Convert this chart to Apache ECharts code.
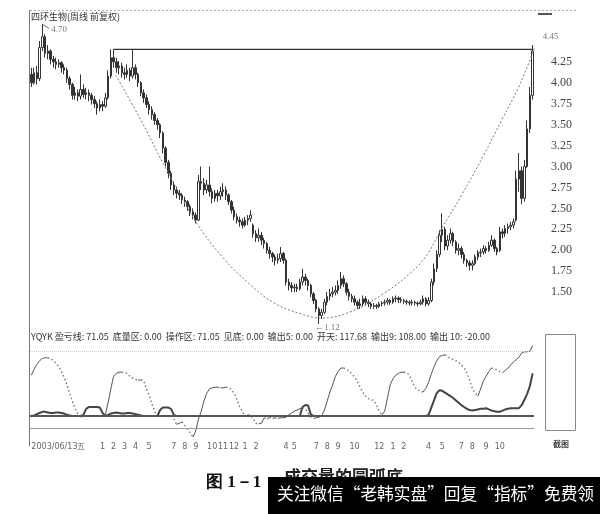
<!DOCTYPE html>
<html><head><meta charset="utf-8">
<script src="https://cdn.jsdelivr.net/npm/echarts@6/dist/echarts.min.js"></script>
<style>html,body{margin:0;padding:0;background:#fff}#c{width:600px;height:514px}</style>
</head><body><div id="c"></div>
<script>
// ---------- data ----------
const chartTitle = '四环生物(周线 前复权)';
// weekly candles: [open, close, low, high]
const candles = [
[4.10,4.00,3.95,4.18],[4.00,4.12,3.98,4.18],[4.12,4.05,3.98,4.20],[4.05,4.42,4.02,4.50],[4.42,4.55,4.38,4.70],
[4.55,4.35,4.30,4.58],[4.35,4.38,4.28,4.45],[4.38,4.28,4.22,4.40],[4.28,4.25,4.18,4.32],[4.25,4.22,4.16,4.30],
[4.22,4.24,4.18,4.28],[4.24,4.18,4.12,4.26],[4.18,4.15,4.10,4.22],[4.15,4.05,4.00,4.18],[4.05,3.98,3.92,4.08],
[3.98,3.85,3.80,4.00],[3.85,3.88,3.80,3.95],[3.88,3.84,3.78,3.92],[3.84,3.92,3.80,4.10],[3.92,3.86,3.82,3.98],
[3.86,3.88,3.80,3.94],[3.88,3.85,3.78,3.92],[3.85,3.80,3.74,3.88],[3.80,3.75,3.70,3.84],[3.75,3.70,3.62,3.78],
[3.70,3.74,3.66,3.80],[3.74,3.72,3.66,3.78],[3.72,3.82,3.70,3.88],[3.82,4.08,3.80,4.15],[4.08,4.30,4.05,4.40],
[4.30,4.25,4.18,4.40],[4.25,4.18,4.12,4.30],[4.18,4.20,4.10,4.26],[4.20,4.12,4.06,4.24],[4.12,4.10,4.04,4.18],
[4.10,4.15,4.06,4.22],[4.15,4.08,4.02,4.18],[4.08,4.18,4.05,4.40],[4.18,4.10,4.04,4.22],[4.10,4.00,3.95,4.12],
[4.00,3.88,3.84,4.02],[3.88,3.82,3.76,3.92],[3.82,3.74,3.70,3.86],[3.74,3.68,3.62,3.78],[3.68,3.62,3.56,3.72],
[3.62,3.55,3.50,3.65],[3.55,3.50,3.44,3.58],[3.50,3.40,3.34,3.52],[3.40,3.22,3.16,3.42],[3.22,3.05,3.00,3.24],
[3.05,2.92,2.86,3.08],[2.92,2.78,2.72,2.95],[2.78,2.72,2.66,2.82],[2.72,2.68,2.62,2.76],[2.68,2.66,2.60,2.72],
[2.66,2.60,2.55,2.68],[2.60,2.58,2.52,2.64],[2.58,2.52,2.47,2.60],[2.52,2.46,2.41,2.55],[2.46,2.42,2.37,2.50],
[2.42,2.36,2.32,2.45],[2.36,2.82,2.35,2.90],[2.82,2.80,2.72,3.00],[2.80,2.72,2.66,2.86],[2.72,2.78,2.68,2.84],
[2.78,2.70,2.64,3.00],[2.70,2.62,2.56,2.74],[2.62,2.68,2.58,2.72],[2.68,2.65,2.58,2.72],[2.65,2.70,2.60,2.76],
[2.70,2.72,2.64,2.80],[2.72,2.66,2.60,2.76],[2.66,2.58,2.54,2.68],[2.58,2.48,2.44,2.60],[2.48,2.40,2.36,2.52],
[2.40,2.36,2.32,2.44],[2.36,2.34,2.28,2.40],[2.34,2.30,2.26,2.38],[2.30,2.36,2.28,2.40],[2.36,2.38,2.30,2.42],
[2.38,2.42,2.34,2.48],[2.30,2.20,2.15,2.32],[2.20,2.15,2.10,2.24],[2.15,2.18,2.10,2.26],[2.18,2.12,2.06,2.22],
[2.12,2.08,2.02,2.15],[2.08,2.00,1.96,2.10],[2.00,1.96,1.90,2.04],[1.96,1.92,1.86,1.98],[1.92,1.88,1.82,1.95],
[1.88,1.90,1.84,1.96],[1.90,1.96,1.86,2.04],[1.96,1.88,1.84,1.98],[1.88,1.62,1.58,1.90],[1.62,1.58,1.52,1.66],
[1.58,1.55,1.50,1.62],[1.55,1.56,1.50,1.60],[1.56,1.54,1.50,1.60],[1.54,1.62,1.52,1.66],[1.62,1.68,1.58,1.78],
[1.68,1.64,1.58,1.72],[1.64,1.58,1.52,1.66],[1.58,1.48,1.44,1.60],[1.48,1.40,1.36,1.50],[1.40,1.30,1.26,1.42],
[1.30,1.22,1.12,1.32],[1.22,1.26,1.18,1.30],[1.26,1.38,1.24,1.42],[1.38,1.45,1.34,1.50],[1.45,1.48,1.40,1.54],
[1.48,1.50,1.44,1.56],[1.50,1.52,1.46,1.58],[1.52,1.58,1.48,1.64],[1.58,1.66,1.54,1.74],[1.66,1.60,1.56,1.70],
[1.60,1.50,1.46,1.62],[1.50,1.45,1.40,1.54],[1.45,1.42,1.38,1.48],[1.42,1.38,1.34,1.46],[1.38,1.34,1.30,1.40],
[1.34,1.36,1.30,1.42],[1.36,1.42,1.33,1.46],[1.42,1.38,1.34,1.45],[1.38,1.36,1.32,1.41],[1.36,1.33,1.30,1.38],
[1.33,1.34,1.30,1.37],[1.34,1.33,1.30,1.36],[1.33,1.36,1.31,1.38],[1.36,1.37,1.33,1.39],[1.37,1.38,1.34,1.41],
[1.38,1.40,1.35,1.43],[1.40,1.38,1.35,1.42],[1.38,1.42,1.36,1.45],[1.42,1.43,1.38,1.46],[1.43,1.41,1.37,1.45],
[1.41,1.40,1.37,1.44],[1.40,1.39,1.36,1.42],[1.39,1.38,1.35,1.41],[1.38,1.37,1.34,1.40],[1.37,1.38,1.34,1.41],
[1.38,1.37,1.34,1.40],[1.37,1.36,1.33,1.39],[1.36,1.38,1.34,1.41],[1.38,1.42,1.35,1.46],[1.42,1.36,1.33,1.44],
[1.36,1.40,1.34,1.44],[1.40,1.62,1.38,1.66],[1.62,1.78,1.58,1.84],[1.78,1.95,1.74,2.00],[1.95,2.18,1.92,2.24],
[2.18,2.25,2.10,2.44],[2.25,2.05,2.00,2.28],[2.05,2.12,2.00,2.18],[2.12,2.20,2.08,2.26],[2.20,2.10,2.05,2.22],
[2.10,2.00,1.96,2.12],[2.00,2.02,1.94,2.08],[2.02,1.95,1.90,2.05],[1.95,1.88,1.84,1.98],[1.88,1.85,1.80,1.90],
[1.85,1.82,1.76,1.88],[1.82,1.84,1.76,1.88],[1.84,1.92,1.82,1.95],[1.92,1.97,1.88,2.00],[1.97,1.98,1.92,2.02],
[1.98,2.02,1.95,2.06],[2.02,2.00,1.96,2.05],[2.00,2.06,1.98,2.10],[2.06,2.12,2.04,2.18],[2.12,2.02,1.98,2.14],
[2.02,1.98,1.94,2.04],[2.00,2.22,1.98,2.28],[2.22,2.20,2.14,2.26],[2.20,2.26,2.16,2.30],[2.26,2.28,2.20,2.32],
[2.28,2.30,2.24,2.34],[2.30,2.34,2.26,2.38],[2.36,2.85,2.34,2.95],[2.85,2.95,2.70,3.16],[2.95,2.62,2.55,3.00],
[2.62,3.00,2.58,3.08],[3.00,3.45,2.98,3.55],[3.45,3.85,3.40,3.95],[3.85,4.38,3.80,4.45]
];
// indicator "开天" oscillator (one value per week)
const kaitian = [
68,78,86,92,96,97,97,96,92,88, 82,74,64,52,38,24,12,3,-2,0,
0,0,0,0,0,0,0,2,22,45, 66,71,73,73,72,71,66,63,61,60,
60,59,45,35,20,8,-1,0,0,0, 0,0,-4,-14,-12,-10,-16,-22,-28,-35,
-25,-5,8,25,38,45,47,48,48,47, 47,48,47,44,38,28,16,8,-1,2,
1,-5,-12,-13,-12,-3,-5,-2,-4,-3, -4,-3,-3,-2,2,5,8,10,12,14,
12,5,-2,-4,-3,-2,0,10,25,40, 52,66,74,80,80,78,75,70,65,58,
48,40,33,29,27,26,18,8,2,8, 30,52,62,68,71,73,73,72,68,58,
48,44,41,40,46,56,70,82,92,99, 101,102,99,96,94,92,90,85,80,72,
60,46,38,33,45,58,66,74,80,79, 77,74,72,76,80,85,90,94,98,105,
107,107,108,117.68
];
// indicator "盈亏线" (thick line)
const yingkui = [
0,1,3,5,7,7,6,5,5,6, 6,5,4,2,1,0,0,0,0,2,
12,15,15,15,15,14,5,0,2,4, 5,6,5,4,4,5,5,4,3,2,
1,0,0,0,0,0,0,10,14,14, 14,12,2,0,0,0,0,0,0,0,
0,0,0,0,0,0,0,0,0,0, 0,0,0,0,0,0,0,0,0,0,
0,0,0,0,0,0,0,0,0,0, 0,0,0,0,0,0,0,0,0,15,
18,18,3,0,0,0,0,0,0,0, 0,0,0,0,0,0,0,0,0,0,
0,0,0,0,0,0,0,0,0,0, 0,0,0,0,0,0,0,0,0,0,
0,0,0,0,0,2,14,26,38,43, 42,39,36,33,30,26,22,18,15,12,
10,9,10,11,12,12,13,11,9,8, 7,7,9,11,12,13,13,13,13,18,
27,37,50,71.05
];
const OUT9 = 108.00, OUT10 = -20.00;
const indicatorHeader = 'YQYK 盈亏线: 71.05  底量区: 0.00  操作区: 71.05  见底: 0.00  输出5: 0.00  开天: 117.68  输出9: 108.00  输出 10: -20.00';
// x-axis tick labels: [week index, text]
const tickLabels = [[0,'2003/06/13五'],[26,'1'],[30,'2'],[34,'3'],[38,'4'],[43,'5'],[52,'7'],[56,'8'],[60,'9'],
 [66,'10'],[70,'11'],[74,'12'],[78,'1'],[82,'2'],[93,'4'],[96,'5'],[104,'7'],[108,'8'],[112,'9'],[118,'10'],
 [127,'12'],[132,'1'],[136,'2'],[145,'4'],[150,'5'],[157,'7'],[161,'8'],[166,'9'],[171,'10']];
const priceTicks = ['1.50','1.75','2.00','2.25','2.50','2.75','3.00','3.25','3.50','3.75','4.00','4.25'];
// hand-drawn round-bottom arc, in [week index, price]
const arcPoints = [[30.8,4.09],[39.9,3.56],[48.4,3.02],[60.1,2.34],[70,1.91],[80.2,1.58],[88.6,1.37],[98.5,1.24],
 [105.9,1.19],[116.8,1.27],[128.9,1.49],[138.8,1.74],[144.3,1.94],[149.8,2.26],[157.1,2.66],[165.2,3.14],
 [171.8,3.56],[177.9,3.95],[182.7,4.33],[185.7,4.61]];
const rimLine = [[30,4.40],[183,4.40]];
const priceNotes = [[4,4.70,'4.70'],[105,1.12,'←1.12'],[183,4.45,'4.45']];
const captionNo = '图 1－1', captionText = '成交量的圆弧底';
const bannerText = '关注微信“老韩实盘”回复“指标”免费领';

// ---------- build ----------
const N = candles.length;
const categories = candles.map((_, i) => 'W' + (i + 1));
const labelMap = new Map(tickLabels);
function segments(arr, rising) {
  const out = [];
  let last = -2;
  for (let i = 1; i < arr.length; i++) {
    const up = arr[i] >= arr[i - 1];
    if (up !== rising) continue;
    if (last === i - 1) out.push([i, arr[i]]);
    else { if (out.length) out.push([i - 1.5, '-']); out.push([i - 1, arr[i - 1]], [i, arr[i]]); }
    last = i;
  }
  return out;
}
const chart = echarts.init(document.getElementById('c'), null, {renderer: 'canvas'});
const valX = (g, max) => ({type: 'value', gridIndex: g, min: -0.5, max: max, show: false});
const option = {
  animation: false,
  backgroundColor: '#fff',
  grid: [
    {left: 30, right: 66, top: 20, height: 314},
    {left: 30, right: 66, top: 344, height: 96}
  ],
  xAxis: [
    {type: 'category', gridIndex: 0, data: categories, boundaryGap: true, show: false},
    valX(0, N - 0.5),
    {type: 'category', gridIndex: 1, data: categories, boundaryGap: true,
     axisLine: {show: false}, axisTick: {show: false},
     axisLabel: {interval: (i) => labelMap.has(i), formatter: (v, i) => labelMap.get(i) || '',
       fontSize: 8, color: '#666', margin: 3, alignMinLabel: 'left', fontFamily: 'DejaVu Sans'}},
    valX(1, N - 0.5)
  ],
  yAxis: [
    {type: 'value', gridIndex: 0, min: 1.0, max: 4.75, interval: 0.25, position: 'right',
     axisLine: {show: false}, axisTick: {show: false}, splitLine: {show: false},
     axisLabel: {margin: 17, fontSize: 12, color: '#444', fontFamily: 'Liberation Serif',
       formatter: (v) => { const s = v.toFixed(2); return priceTicks.includes(s) ? s : ''; }}},
    {type: 'value', gridIndex: 1, min: -40, max: 120, show: false}
  ],
  series: [
    {type: 'candlestick', xAxisIndex: 0, yAxisIndex: 0, data: candles, barWidth: 2,
     itemStyle: {color: '#fff', color0: '#333', borderColor: '#333', borderColor0: '#333', borderWidth: 1}},
    {type: 'line', xAxisIndex: 1, yAxisIndex: 0, data: rimLine, symbol: 'none',
     lineStyle: {color: '#333', width: 1.2}},
    {type: 'line', xAxisIndex: 1, yAxisIndex: 0, data: arcPoints, symbol: 'none', smooth: 0.4, clip: false,
     lineStyle: {color: '#777', width: 1, type: [2, 2]}},
    {type: 'line', xAxisIndex: 1, yAxisIndex: 0, data: [[priceNotes[0][0], priceNotes[0][1]], [priceNotes[0][0] + 2.5, priceNotes[0][1] - 0.05]],
     symbol: 'none', lineStyle: {color: '#666', width: 1}},
    {type: 'scatter', xAxisIndex: 1, yAxisIndex: 0, symbolSize: 0, clip: false,
     data: priceNotes.map((n, k) => ({value: [n[0], n[1]], name: n[2],
       label: {offset: k === 0 ? [9, 5] : (k === 1 ? [-4, 4] : [10, -8])}})),
     label: {show: true, position: 'right', distance: 0, formatter: (p) => p.name,
       fontSize: 9, color: '#555', fontFamily: 'Liberation Serif'}},
    // indicator panel
    {type: 'line', xAxisIndex: 2, yAxisIndex: 1, data: yingkui, symbol: 'none',
     lineStyle: {color: '#444', width: 2},
     markLine: {symbol: 'none', silent: true, label: {show: false}, data: [
       {yAxis: 0, lineStyle: {color: '#555', width: 2, type: 'solid'}},
       {yAxis: OUT10, lineStyle: {color: '#999', width: 1, type: 'solid'}},
       {yAxis: OUT9, lineStyle: {color: '#ccc', width: 1, type: 'dotted'}}
     ]}},
    {type: 'line', xAxisIndex: 3, yAxisIndex: 1, data: segments(kaitian, true), symbol: 'none', connectNulls: false,
     lineStyle: {color: '#555', width: 1}},
    {type: 'line', xAxisIndex: 3, yAxisIndex: 1, data: segments(kaitian, false), symbol: 'none', connectNulls: false,
     lineStyle: {color: '#777', width: 1.4, type: [1.5, 2.5]}}
  ],
  graphic: [
    {type: 'line', shape: {x1: 29.5, y1: 10, x2: 29.5, y2: 446}, style: {stroke: '#777', lineWidth: 1}},
    {type: 'line', shape: {x1: 30, y1: 10.5, x2: 576, y2: 10.5}, style: {stroke: '#aaa', lineWidth: 1, lineDash: [2, 2]}},
    {type: 'line', shape: {x1: 538, y1: 14, x2: 552, y2: 14}, style: {stroke: '#555', lineWidth: 2}},
    {type: 'text', left: 31, top: 12, style: {text: chartTitle, fontSize: 9, fill: '#333', fontFamily: 'Noto Sans CJK SC'}},
    {type: 'text', left: 31, top: 332, style: {text: indicatorHeader, fontSize: 9, fill: '#333', fontFamily: 'Noto Sans CJK SC'}},
    {type: 'rect', shape: {x: 545.5, y: 334.5, width: 30, height: 96}, style: {fill: 'none', stroke: '#888', lineWidth: 1}},
    {type: 'text', left: 553, top: 440, style: {text: '截图', fontSize: 8, fill: '#444', fontWeight: 'bold', fontFamily: 'Noto Sans CJK SC'}},
    {type: 'text', left: 206, top: 474, style: {text: captionNo, fontSize: 17, fontWeight: 'bold', fill: '#111', fontFamily: 'Liberation Serif'}},
    {type: 'text', left: 284, top: 468, style: {text: captionText, fontSize: 17, fontWeight: 'bold', fill: '#222', fontFamily: 'Noto Sans CJK SC'}},
    {type: 'rect', shape: {x: 268, y: 477, width: 332, height: 37}, style: {fill: '#000'}},
    {type: 'text', left: 277, top: 485, style: {text: bannerText, fontSize: 16.7, fill: '#fff', fontFamily: 'Noto Sans CJK SC'}}
  ]
};
chart.setOption(option);
</script></body></html>
